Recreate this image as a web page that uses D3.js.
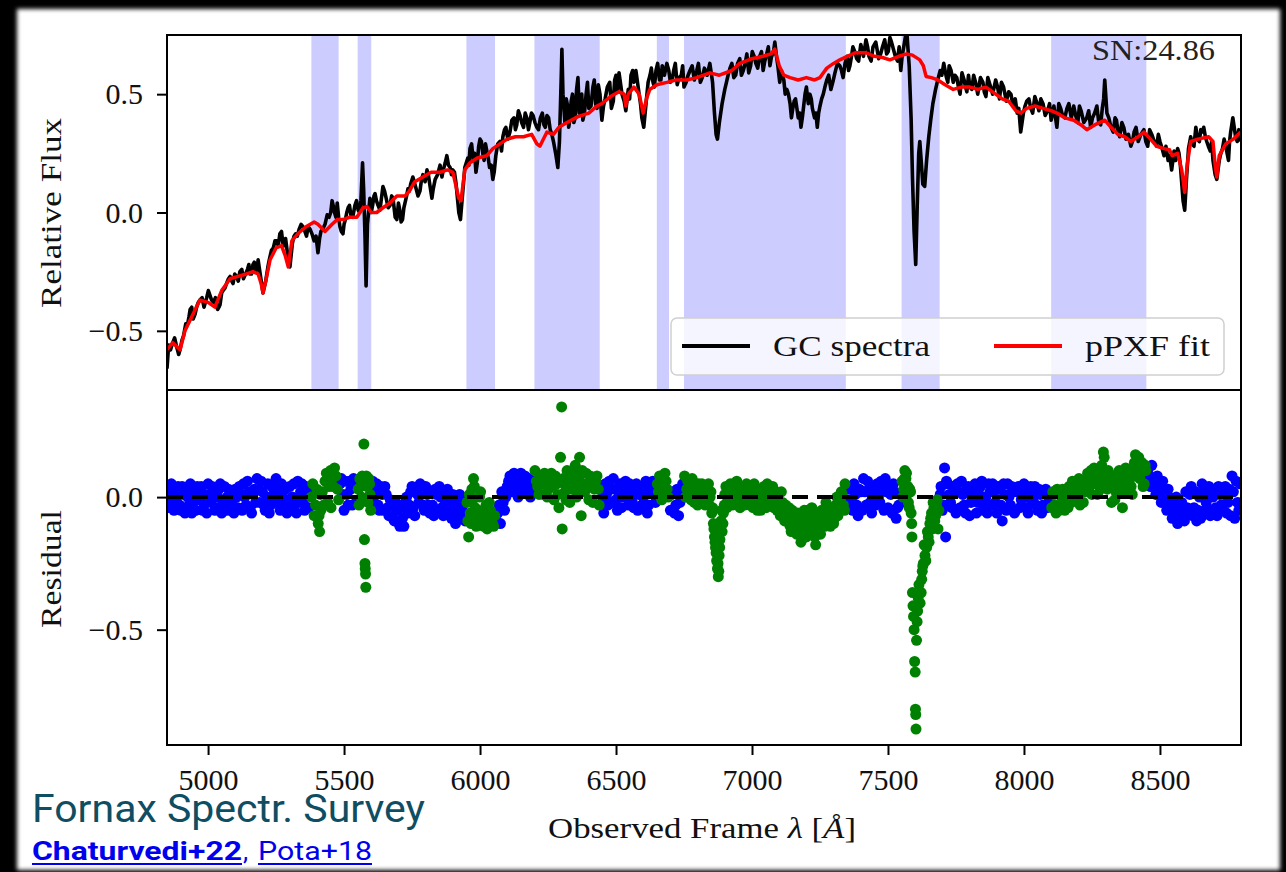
<!DOCTYPE html>
<html>
<head>
<meta charset="utf-8">
<script src="https://cdn.jsdelivr.net/npm/d3@7"></script>
<style>
  html, body { margin: 0; padding: 0; background: #000; overflow: hidden; }
</style>
</head>
<body>
<svg id="chart" width="1286" height="872"></svg>
<script>
// ---- data ----
// observed spectrum [wavelength (A), relative flux], main samples
const spectrumA = [
  [4849,-0.66],[4855,-0.56],[4870,-0.55],[4885,-0.57],[4897,-0.58],[4910,-0.52],[4925,-0.47],[4934,-0.41],
  [4945,-0.45],[4958,-0.40],[4970,-0.37],[4985,-0.40],[4995,-0.36],[5007,-0.35],[5020,-0.38],[5035,-0.41],
  [5044,-0.39],[5055,-0.33],[5068,-0.30],[5081,-0.27],[5092,-0.30],[5105,-0.27],[5117,-0.25],[5130,-0.28],
  [5145,-0.24],[5154,-0.26],[5165,-0.22],[5175,-0.25],[5184,-0.20],[5193,-0.27],[5202,-0.34],[5212,-0.29],
  [5225,-0.20],[5240,-0.15],[5252,-0.12],[5264,-0.09],[5275,-0.13],[5285,-0.11],[5295,-0.20],[5301,-0.23],
  [5310,-0.13],[5322,-0.09],[5335,-0.07],[5349,-0.06],[5362,-0.10],[5375,-0.07],[5390,-0.12],[5404,-0.17],
  [5415,-0.08],[5430,-0.05],[5445,-0.02],[5456,0.05],[5465,0.00],[5475,0.04],[5485,-0.06],[5496,-0.09],
  [5505,-0.03],[5515,0.02],[5525,-0.01],[5540,0.03],[5552,0.01],[5562,0.05],[5568,0.21],[5572,0.10],
  [5577,-0.10],[5581,-0.31],[5586,-0.05],[5595,0.06],[5605,0.03],[5614,0.08],[5625,0.03],[5643,0.11],
  [5655,0.06],[5669,0.03],[5680,0.06],[5694,-0.03],[5705,0.01],[5715,-0.03],[5724,0.04],[5735,0.10],
  [5745,0.12],[5753,0.15],[5765,0.10],[5779,0.09],[5790,0.16],[5805,0.18],[5815,0.12],[5823,0.06],
  [5835,0.14],[5853,0.20],[5865,0.18],[5878,0.24],[5890,0.19],[5900,0.18],[5912,0.12],[5922,0.00],
  [5928,-0.03],[5936,0.08],[5944,0.19],[5955,0.23],[5963,0.27],[5975,0.22],[5985,0.17],[5995,0.28],
  [6005,0.30],[6015,0.22],[6025,0.26],[6035,0.19],[6047,0.14],[6058,0.24],[6073,0.30],[6084,0.32],
  [6095,0.36],[6110,0.34],[6125,0.40],[6135,0.37],[6147,0.41],[6160,0.36],[6172,0.40],[6183,0.38],
  [6195,0.41],[6209,0.36],[6222,0.40],[6235,0.37],[6246,0.41],[6258,0.35],[6270,0.30],[6278,0.25],
  [6286,0.19],[6292,0.30],[6298,0.55],[6301,0.69],[6305,0.50],[6312,0.38],[6322,0.45],[6330,0.39],
  [6340,0.50],[6350,0.40],[6360,0.57],[6370,0.45],[6378,0.39],[6390,0.50],[6400,0.44],[6415,0.53],
  [6425,0.46],[6435,0.54],[6448,0.39],[6460,0.48],[6477,0.55],[6490,0.47],[6500,0.58],[6511,0.59],
  [6522,0.50],[6530,0.47],[6536,0.43],[6545,0.52],[6555,0.58],[6566,0.55],[6573,0.60],[6585,0.50],
  [6595,0.40],[6602,0.36],[6612,0.48],[6625,0.58],[6636,0.55],[6647,0.60],[6660,0.56],[6670,0.62],
  [6687,0.63],[6700,0.55],[6712,0.60],[6725,0.54],[6740,0.58],[6750,0.53],[6765,0.58],[6780,0.62],
  [6797,0.60],[6810,0.55],[6825,0.61],[6845,0.63],[6855,0.55],[6862,0.42],[6868,0.33],[6873,0.31],
  [6880,0.38],[6890,0.46],[6900,0.52],[6912,0.58],[6926,0.63],[6940,0.58],[6955,0.65],[6968,0.60],
  [6981,0.67],[6995,0.62],[7008,0.66],[7021,0.61],[7035,0.68],[7047,0.64],[7060,0.70],[7072,0.66],
  [7084,0.72],[7095,0.62],[7108,0.60],[7117,0.56],[7128,0.52],[7140,0.46],[7150,0.44],[7160,0.48],
  [7170,0.40],[7180,0.36],[7190,0.45],[7200,0.53],[7213,0.50],[7222,0.44],[7230,0.40],[7240,0.36],
  [7250,0.45],[7262,0.50],[7275,0.56],[7290,0.52],[7305,0.59],[7323,0.62],[7335,0.57],[7350,0.66],
  [7360,0.62],[7371,0.70],[7385,0.65],[7400,0.71],[7419,0.73],[7430,0.66],[7445,0.70],[7466,0.65],
  [7480,0.70],[7495,0.67],[7507,0.74],[7520,0.69],[7535,0.64],[7547,0.60],[7558,0.70],[7565,0.75],
  [7570,0.75],[7578,0.62],[7585,0.40],[7590,0.15],[7596,-0.08],[7602,-0.22],[7608,0.05],[7613,0.25],
  [7617,0.30],[7622,0.22],[7628,0.12],[7635,0.11],[7642,0.22],[7650,0.32],[7657,0.39],[7665,0.46],
  [7675,0.52],[7683,0.56],[7692,0.60],[7705,0.63],[7715,0.57],[7725,0.62],[7740,0.55],[7753,0.57],
  [7765,0.50],[7780,0.56],[7790,0.51],[7801,0.53],[7815,0.58],[7830,0.50],[7849,0.55],[7860,0.49],
  [7875,0.54],[7896,0.56],[7910,0.48],[7925,0.53],[7944,0.51],[7960,0.45],[7975,0.42],[7988,0.34],
  [7998,0.42],[8010,0.47],[8025,0.44],[8040,0.49],[8055,0.43],[8070,0.46],[8087,0.43],[8100,0.39],
  [8110,0.45],[8121,0.36],[8135,0.44],[8150,0.40],[8165,0.46],[8183,0.45],[8198,0.38],[8210,0.43],
  [8231,0.40],[8245,0.36],[8260,0.42],[8275,0.38],[8288,0.44],[8297,0.56],[8305,0.42],[8320,0.36],
  [8335,0.40],[8345,0.35],[8360,0.38],[8375,0.31],[8393,0.28],[8405,0.34],[8420,0.30],[8441,0.35],
  [8455,0.28],[8470,0.33],[8488,0.28],[8500,0.30],[8515,0.24],[8530,0.22],[8543,0.18],[8552,0.26],
  [8565,0.27],[8575,0.20],[8585,0.05],[8591,0.01],[8598,0.15],[8605,0.27],[8613,0.32],[8625,0.28],
  [8632,0.36],[8645,0.30],[8655,0.34],[8661,0.36],[8672,0.30],[8685,0.26],[8695,0.22],[8703,0.16],
  [8709,0.14],[8718,0.22],[8730,0.27],[8742,0.28],[8752,0.22],[8760,0.34],[8768,0.40],[8778,0.32],
  [8790,0.35],[8797,0.30]
];

// observed spectrum, in-between samples (pixel noise)
const spectrumB = [
  [4862,-0.58],[4877,-0.53],[4892,-0.60],[4904,-0.54],[4918,-0.47],[4930,-0.44],[4940,-0.40],[4952,-0.43],
  [4964,-0.38],[4978,-0.36],[4990,-0.38],[5001,-0.33],[5013,-0.37],[5027,-0.36],[5040,-0.40],[5050,-0.34],
  [5062,-0.32],[5075,-0.28],[5087,-0.29],[5098,-0.26],[5111,-0.29],[5124,-0.24],[5138,-0.26],[5150,-0.22],
  [5160,-0.26],[5170,-0.21],[5180,-0.24],[5220,-0.23],[5233,-0.16],[5246,-0.12],[5258,-0.14],[5270,-0.08],
  [5280,-0.14],[5316,-0.10],[5328,-0.10],[5342,-0.05],[5356,-0.08],[5368,-0.06],[5382,-0.09],[5397,-0.10],
  [5410,-0.11],[5422,-0.07],[5438,-0.01],[5451,0.00],[5460,0.03],[5470,-0.02],[5480,-0.02],[5490,-0.08],
  [5500,-0.05],[5510,0.00],[5520,0.03],[5532,-0.02],[5546,0.05],[5557,0.00],[5600,0.00],[5610,0.07],
  [5619,0.05],[5632,0.01],[5649,0.09],[5662,0.02],[5675,0.07],[5688,-0.02],[5700,0.04],[5710,-0.04],
  [5720,0.02],[5730,0.07],[5740,0.09],[5758,0.13],[5772,0.07],[5785,0.14],[5798,0.13],[5810,0.16],
  [5828,0.10],[5844,0.16],[5860,0.15],[5872,0.21],[5884,0.20],[5895,0.16],[5906,0.17],
  [5959,0.20],[5969,0.29],[5980,0.25],[5990,0.21],[6000,0.31],[6010,0.25],[6020,0.29],[6030,0.23],
  [6041,0.20],[6052,0.17],[6065,0.29],[6079,0.26],[6090,0.35],[6102,0.31],[6117,0.39],[6130,0.35],
  [6141,0.43],[6153,0.38],[6166,0.42],[6178,0.35],[6189,0.42],[6202,0.38],[6215,0.35],[6229,0.42],
  [6240,0.36],[6252,0.40],[6264,0.33],
  [6317,0.48],[6326,0.36],[6335,0.47],[6345,0.38],[6355,0.52],[6365,0.42],[6374,0.50],[6384,0.42],
  [6395,0.55],[6408,0.45],[6420,0.56],[6430,0.44],[6441,0.50],[6454,0.45],[6468,0.53],[6483,0.44],
  [6495,0.56],[6505,0.51],[6516,0.55],[6550,0.48],[6561,0.60],[6579,0.55],[6590,0.46],[6618,0.55],
  [6630,0.61],[6641,0.53],[6653,0.63],[6665,0.56],[6678,0.58],[6694,0.60],[6706,0.56],[6718,0.63],
  [6732,0.57],[6745,0.62],
  [6758,0.55],[6772,0.60],[6788,0.56],[6803,0.63],[6817,0.57],[6835,0.58],[6850,0.59],[6906,0.55],
  [6919,0.61],[6933,0.57],[6947,0.63],[6961,0.58],[6975,0.63],[6988,0.59],[7001,0.68],[7014,0.63],
  [7028,0.66],[7041,0.60],[7054,0.67],[7066,0.62],[7078,0.67],[7090,0.66],[7102,0.55],[7112,0.58],
  [7122,0.50],[7134,0.50],[7145,0.40],[7155,0.47],[7165,0.44],[7175,0.42],[7185,0.40],[7195,0.50],
  [7207,0.46],[7218,0.48],[7235,0.42],[7245,0.42],[7256,0.48],[7268,0.53],[7282,0.58],[7297,0.55],
  [7314,0.63],[7329,0.60],[7342,0.63],[7355,0.60],[7366,0.66],[7378,0.68],[7392,0.64],[7410,0.66],
  [7425,0.70],[7438,0.64],[7455,0.72],[7473,0.67],[7488,0.73],[7501,0.68],[7513,0.72],[7527,0.66],
  [7541,0.70],[7552,0.66],
  [7698,0.58],[7710,0.60],[7720,0.55],[7732,0.60],[7746,0.58],[7759,0.53],[7772,0.59],[7785,0.53],
  [7796,0.58],[7808,0.52],[7822,0.55],[7840,0.57],[7854,0.51],[7867,0.57],[7885,0.50],[7903,0.53],
  [7917,0.55],[7935,0.47],[7952,0.50],[7968,0.48],[7981,0.44],[7993,0.38],[8004,0.45],[8018,0.48],
  [8032,0.42],[8048,0.46],[8062,0.48],[8078,0.41],[8094,0.46],[8105,0.42],[8116,0.40],[8128,0.46],
  [8142,0.41],[8158,0.44],[8174,0.40],[8190,0.41],[8204,0.45],[8220,0.38],[8238,0.43],[8252,0.40],
  [8268,0.45],[8282,0.37],[8293,0.48],[8312,0.40],[8328,0.34],[8340,0.39],[8352,0.32],[8367,0.36],
  [8384,0.33],[8399,0.30],[8412,0.36],[8430,0.33],[8448,0.30],[8462,0.35],[8479,0.30],[8494,0.33],
  [8508,0.27],[8522,0.28],[8536,0.24],[8558,0.22],[8570,0.25],[8618,0.29],[8638,0.31],[8650,0.35],
  [8667,0.32],[8678,0.28],[8690,0.30],[8724,0.25],[8736,0.31],[8747,0.25],[8756,0.30],[8764,0.37],
  [8773,0.36],[8784,0.30]
];

// pPXF best fit [wavelength, relative flux]
const fit = [
  [4849,-0.58],[4870,-0.55],[4897,-0.58],[4915,-0.50],[4940,-0.44],[4970,-0.37],[5000,-0.38],[5025,-0.40],
  [5050,-0.33],[5081,-0.28],[5110,-0.27],[5140,-0.26],[5165,-0.25],[5184,-0.26],[5195,-0.30],[5202,-0.34],
  [5212,-0.29],[5228,-0.20],[5250,-0.15],[5270,-0.14],[5283,-0.18],[5295,-0.23],[5308,-0.12],[5330,-0.09],
  [5360,-0.06],[5390,-0.04],[5404,-0.05],[5430,-0.08],[5456,-0.05],[5475,-0.03],[5496,-0.03],[5520,-0.02],
  [5547,-0.02],[5570,0.02],[5584,0.025],[5600,0.00],[5620,0.00],[5643,0.02],[5669,0.04],[5694,0.07],
  [5724,0.07],[5740,0.09],[5760,0.13],[5790,0.15],[5820,0.17],[5853,0.17],[5880,0.18],[5900,0.17],
  [5910,0.12],[5922,0.06],[5930,0.05],[5944,0.18],[5963,0.21],[5990,0.23],[6025,0.24],[6047,0.27],
  [6073,0.29],[6100,0.31],[6130,0.32],[6160,0.32],[6190,0.33],[6209,0.29],[6220,0.28],[6246,0.34],
  [6270,0.33],[6290,0.36],[6320,0.38],[6360,0.405],[6400,0.42],[6430,0.45],[6448,0.46],[6480,0.49],
  [6511,0.51],[6530,0.50],[6536,0.45],[6545,0.50],[6566,0.53],[6585,0.50],[6600,0.42],[6612,0.48],
  [6624,0.52],[6650,0.54],[6687,0.55],[6720,0.56],[6760,0.56],[6797,0.57],[6845,0.59],[6880,0.58],
  [6926,0.60],[6955,0.63],[7000,0.65],[7040,0.66],[7070,0.67],[7084,0.69],[7100,0.62],[7117,0.58],
  [7140,0.57],[7170,0.56],[7200,0.57],[7230,0.56],[7250,0.57],[7275,0.61],[7300,0.63],[7323,0.645],
  [7350,0.66],[7380,0.675],[7419,0.675],[7450,0.66],[7480,0.655],[7507,0.645],[7540,0.66],[7569,0.67],
  [7590,0.665],[7617,0.645],[7630,0.62],[7640,0.575],[7660,0.57],[7683,0.56],[7710,0.54],[7740,0.52],
  [7770,0.53],[7801,0.53],[7830,0.52],[7860,0.53],[7896,0.50],[7920,0.48],[7944,0.47],[7970,0.43],
  [7988,0.42],[8010,0.44],[8040,0.45],[8070,0.44],[8100,0.43],[8121,0.42],[8150,0.40],[8183,0.39],
  [8210,0.37],[8231,0.35],[8260,0.37],[8297,0.39],[8320,0.36],[8345,0.33],[8370,0.32],[8393,0.30],
  [8420,0.32],[8441,0.34],[8465,0.31],[8488,0.28],[8515,0.27],[8535,0.265],[8545,0.24],[8565,0.25],
  [8580,0.18],[8591,0.085],[8600,0.20],[8613,0.30],[8640,0.31],[8679,0.32],[8695,0.30],[8703,0.20],
  [8709,0.15],[8718,0.24],[8742,0.29],[8770,0.31],[8797,0.34]
];

// fit residuals [wavelength, residual], first pass
const residualsA = [
  [4850,0.03],[4860,-0.04],[4870,0.02],[4880,-0.02],[4890,0.04],[4900,-0.05],[4910,0.01],[4920,0.03],
  [4930,-0.03],[4940,-0.06],[4950,0.02],[4960,0.04],[4970,-0.01],[4980,-0.05],[4990,0.01],[5000,0.05],
  [5010,-0.02],[5020,0.02],[5030,-0.04],[5040,0.03],[5050,-0.06],[5060,0.04],[5070,0.00],[5080,-0.05],
  [5090,-0.03],[5100,0.03],[5110,-0.04],[5120,0.01],[5130,0.05],[5140,-0.03],[5150,0.02],[5160,-0.06],
  [5170,0.03],[5180,0.07],[5190,-0.02],[5200,0.02],[5210,-0.05],[5220,0.05],[5230,-0.03],[5240,0.01],
  [5250,0.07],[5260,-0.01],[5270,0.05],[5280,-0.04],[5290,-0.06],[5300,0.04],[5310,0.00],[5320,-0.03],
  [5330,0.06],[5340,0.02],[5350,-0.02],[5360,0.04],[5370,-0.04],
  [5380,0.00],[5390,-0.07],[5400,0.03],[5405,-0.10],[5410,-0.13],[5415,-0.05],[5420,0.02],[5430,0.06],
  [5440,-0.02],[5450,0.10],[5455,0.07],[5460,0.04],[5470,0.08],[5480,-0.01],
  [5490,0.07],[5500,-0.05],[5510,0.01],[5520,0.06],[5530,-0.03],[5540,0.04],
  [5552,0.03],[5558,0.07],[5564,0.00],[5570,0.05],[5573,0.20],[5575,-0.16],[5577,-0.25],[5578,-0.27],
  [5579,-0.29],[5580,-0.34],[5582,0.08],[5588,-0.02],[5594,0.05],[5598,-0.05],
  [5605,0.06],[5615,0.02],[5625,-0.03],[5635,0.04],[5645,-0.05],[5655,0.01],[5665,-0.07],[5675,-0.03],
  [5685,-0.09],[5695,-0.05],[5705,-0.11],[5715,-0.08],[5725,-0.02],[5735,-0.06],[5745,0.02],[5755,-0.04],
  [5765,0.03],[5775,-0.02],[5785,0.04],[5795,-0.05],[5805,0.01],[5815,-0.06],[5825,-0.03],[5835,0.03],
  [5845,-0.05],[5855,0.00],[5865,-0.07],[5875,0.02],[5885,-0.04],[5895,-0.08],[5905,-0.02],[5915,-0.06],
  [5925,0.01],[5935,-0.05],[5945,-0.09],
  [5952,-0.02],[5958,-0.15],[5964,-0.06],[5970,0.03],[5976,0.07],[5982,-0.04],[5990,-0.08],[5998,0.00],
  [6006,-0.06],[6014,-0.11],[6022,-0.03],[6030,-0.08],[6038,-0.05],[6046,-0.10],[6054,-0.07],
  [6060,-0.09],[6070,-0.03],[6080,0.02],[6090,-0.05],[6100,0.04],[6110,0.08],[6120,0.02],[6130,0.06],
  [6140,0.00],[6150,0.09],[6160,0.05],[6170,0.02],[6180,0.07],[6190,0.03],
  [6202,0.10],[6212,0.04],[6222,0.08],[6232,0.01],[6242,0.06],[6252,0.03],[6262,0.09],[6272,-0.01],
  [6282,0.05],[6290,-0.04],[6296,0.15],[6300,0.34],[6302,-0.12],[6306,0.07],[6312,0.02],[6320,0.10],
  [6330,-0.02],[6340,0.06],[6350,0.12],[6358,0.03],[6366,0.15],[6372,-0.07],[6380,0.05],[6390,0.09],
  [6400,-0.01],[6410,0.06],[6420,0.03],[6430,0.08],[6438,-0.03],
  [6445,0.04],[6455,-0.06],[6465,0.01],[6475,0.06],[6485,-0.02],[6495,0.03],[6505,-0.05],[6515,0.05],
  [6525,0.00],[6535,0.06],[6545,-0.03],[6555,0.02],[6565,-0.04],[6575,0.05],[6585,0.01],[6595,-0.03],
  [6605,0.04],[6615,-0.06],[6625,0.02],[6635,0.06],[6645,-0.02],
  [6652,0.05],[6660,0.08],[6668,-0.01],[6676,0.04],[6684,0.06],[6692,0.00],
  [6700,-0.05],[6710,0.02],[6720,-0.03],[6730,-0.07],[6740,0.01],
  [6752,0.08],[6760,0.03],[6768,0.06],[6776,-0.01],[6784,0.02],[6792,0.05],[6800,-0.03],[6808,0.00],
  [6816,0.05],[6824,0.04],[6832,-0.02],[6840,0.05],[6846,0.00],[6852,-0.06],[6858,-0.10],[6862,-0.15],
  [6866,-0.19],[6870,-0.24],[6873,-0.27],[6876,-0.30],[6879,-0.22],[6882,-0.16],[6886,-0.09],[6890,-0.13],
  [6895,-0.06],[6900,0.01],[6908,-0.04],[6916,0.03],[6924,0.00],[6932,0.05],[6940,-0.02],[6948,0.04],
  [6956,-0.04],[6964,0.02],[6972,-0.03],[6980,0.05],[6988,-0.01],[6996,0.03],[7004,-0.04],[7012,0.00],
  [7020,-0.05],[7028,0.02],[7036,-0.02],[7044,0.04],[7052,-0.04],[7060,0.02],[7068,-0.03],[7076,0.04],
  [7084,-0.01],[7092,-0.05],[7100,-0.02],[7108,0.02],[7116,-0.06],[7124,-0.03],[7132,-0.08],[7140,-0.11],
  [7148,-0.05],[7156,-0.09],[7164,-0.14],[7172,-0.10],[7180,-0.17],[7188,-0.07],[7196,-0.12],[7204,-0.05],
  [7212,-0.09],[7220,-0.04],[7228,-0.13],[7234,-0.18],[7240,-0.08],[7248,-0.12],[7256,-0.05],[7264,-0.10],
  [7272,-0.02],[7280,-0.07],[7288,-0.11],[7296,-0.04],[7304,-0.08],[7312,0.00],[7320,-0.05],[7328,0.02],
  [7336,-0.03],[7342,0.05],
  [7350,-0.02],[7360,0.04],[7370,-0.05],[7380,0.01],[7390,-0.07],[7400,0.02],[7410,0.07],[7420,-0.03],
  [7430,0.03],[7440,-0.06],[7450,0.01],[7460,0.05],[7470,-0.02],[7480,0.03],[7490,0.07],[7500,-0.04],
  [7510,0.01],[7520,0.05],[7530,-0.08],[7540,-0.03],
  [7552,0.06],[7558,0.03],[7562,0.10],[7566,0.07],[7570,0.01],[7575,-0.02],[7580,0.03],[7585,-0.06],
  [7588,-0.15],[7590,-0.36],[7592,-0.41],[7594,-0.45],[7596,-0.50],[7598,-0.62],[7600,-0.66],[7601,-0.80],
  [7602,-0.82],[7603,-0.875],[7605,-0.54],[7607,-0.47],[7609,-0.43],[7611,-0.38],[7614,-0.33],[7618,-0.40],
  [7622,-0.36],[7626,-0.28],[7630,-0.25],[7636,-0.22],[7642,-0.19],[7648,-0.15],[7654,-0.10],[7660,-0.06],
  [7666,-0.02],[7672,-0.09],[7678,-0.03],[7684,-0.12],
  [7692,0.01],[7700,-0.05],[7708,0.11],[7712,-0.15],[7720,0.05],[7730,-0.02],[7740,0.04],[7750,-0.06],
  [7760,0.02],[7770,0.06],[7780,-0.03],[7790,0.03],[7800,-0.07],[7810,0.01],[7820,0.05],[7830,-0.02],
  [7840,0.04],[7850,-0.05],[7860,0.00],[7870,0.05],[7880,-0.03],[7890,0.02],[7900,-0.06],[7910,0.03],
  [7920,-0.09],[7930,0.01],[7940,0.05],[7950,-0.03],[7960,0.02],[7970,-0.05],[7980,0.04],[7990,-0.01],
  [8000,0.05],[8010,-0.04],[8020,0.02],[8030,-0.02],[8040,0.04],[8050,-0.05],[8060,0.01],[8070,-0.03],
  [8080,0.03],[8090,-0.02],
  [8102,-0.04],[8110,0.01],[8118,-0.06],[8126,0.02],[8134,-0.03],[8142,0.03],[8150,-0.05],[8158,0.00],
  [8166,0.04],[8174,-0.02],[8182,0.03],[8190,0.06],[8198,0.01],[8206,-0.03],[8214,0.05],[8222,0.02],
  [8230,0.07],[8238,0.03],[8246,0.10],[8254,0.05],[8262,0.08],[8270,0.01],[8278,0.06],[8286,0.12],
  [8292,0.17],[8298,0.08],[8306,0.03],[8314,0.07],[8322,-0.02],[8330,0.05],[8338,0.02],[8346,0.08],
  [8354,0.04],[8362,-0.04],[8370,0.06],[8378,0.02],[8386,0.09],[8394,0.04],[8402,0.10],[8410,0.16],
  [8418,0.12],[8426,0.07],[8434,0.13],[8442,0.05],[8448,0.10],
  [8455,0.10],[8465,0.04],[8475,0.07],[8485,0.01],[8495,0.05],[8505,-0.02],[8515,0.03],[8525,-0.05],
  [8535,0.00],[8545,-0.08],[8555,-0.03],[8565,-0.10],[8575,-0.05],[8585,-0.07],[8595,0.02],[8605,-0.06],
  [8615,0.04],[8625,-0.04],[8635,-0.09],[8645,0.00],[8655,0.05],[8665,-0.05],[8675,0.02],[8685,-0.07],
  [8695,0.00],[8705,-0.04],[8715,0.04],[8725,-0.03],[8735,0.01],[8745,-0.06],[8755,0.03],[8765,0.08],
  [8775,-0.08],[8785,-0.02],[8795,0.05]
];

// fit residuals, interleaved pixels
const residualsB = [
  [4855,-0.01],[4865,0.05],[4875,-0.05],[4885,0.00],[4895,-0.03],[4905,0.04],[4915,-0.06],[4925,0.00],
  [4935,0.05],[4945,-0.02],[4955,-0.05],[4965,0.01],[4975,0.04],[4985,-0.03],[4995,-0.06],[5005,0.01],
  [5015,0.04],[5025,-0.05],[5035,0.00],[5045,0.05],[5055,-0.02],[5065,-0.05],[5075,0.03],[5085,0.01],
  [5095,-0.06],[5105,0.00],[5115,0.04],[5125,-0.05],[5135,0.00],[5145,0.06],[5155,-0.04],[5165,0.01],
  [5175,-0.02],[5185,0.03],[5195,0.06],[5205,-0.03],[5215,0.00],[5225,-0.06],[5235,0.04],[5245,-0.02],
  [5255,0.03],[5265,-0.05],[5275,0.00],[5285,0.03],[5295,-0.02],[5305,-0.05],[5315,0.05],[5325,-0.06],
  [5335,0.00],[5345,0.05],[5355,-0.05],[5365,0.02],
  [5385,0.05],[5395,-0.03],[5408,-0.07],[5413,0.01],[5425,-0.03],[5435,0.09],[5445,0.04],[5452,-0.04],
  [5465,0.11],[5475,0.03],
  [5485,0.05],[5495,0.01],[5505,0.06],[5515,-0.03],[5525,0.03],[5535,0.07],[5545,-0.02],
  [5555,-0.03],[5561,0.04],[5567,0.08],[5585,0.04],[5591,0.07],[5596,0.01],
  [5610,-0.02],[5620,0.05],[5630,-0.05],[5640,0.01],[5650,0.04],[5660,-0.04],[5670,-0.01],[5680,-0.08],
  [5690,-0.02],[5700,-0.09],[5710,-0.04],[5720,-0.11],[5730,0.00],[5740,-0.03],[5750,0.04],[5760,-0.07],
  [5770,0.01],[5780,0.05],[5790,-0.03],[5800,0.04],[5810,-0.03],[5820,0.02],[5830,-0.07],[5840,0.01],
  [5850,0.04],[5860,-0.04],[5870,-0.01],[5880,0.03],[5890,-0.06],[5900,0.01],[5910,-0.10],[5920,-0.04],
  [5930,-0.08],[5940,-0.01],
  [5955,-0.09],[5961,0.01],[5967,-0.10],[5973,-0.01],[5979,0.04],[5986,-0.11],[5994,-0.05],[6002,0.02],
  [6010,-0.09],[6018,-0.05],[6026,-0.12],[6034,-0.02],[6042,-0.07],[6050,-0.11],
  [6065,-0.06],[6075,-0.10],[6085,-0.02],[6095,0.00],[6105,0.06],[6115,0.03],[6125,0.09],[6135,0.03],
  [6145,0.05],[6155,0.02],[6165,0.08],[6175,0.04],[6185,0.00],[6195,0.06],
  [6207,0.06],[6217,0.01],[6227,0.05],[6237,0.09],[6247,0.00],[6257,0.07],[6267,0.04],[6277,0.08],
  [6286,0.01],[6310,0.05],[6316,-0.01],[6325,0.07],[6335,0.03],[6345,0.09],[6355,0.00],[6362,0.07],
  [6376,0.10],[6385,0.02],[6395,0.05],[6405,0.08],[6415,-0.02],[6425,0.06],[6435,0.03],
  [6450,0.00],[6460,0.05],[6470,-0.03],[6480,0.03],[6490,0.07],[6500,-0.01],[6510,0.02],[6520,-0.04],
  [6530,0.04],[6540,0.01],[6550,0.05],[6560,-0.02],[6570,0.01],[6580,-0.05],[6590,0.04],[6600,0.00],
  [6610,0.06],[6620,-0.03],[6630,0.03],[6640,0.01],
  [6656,0.02],[6664,0.06],[6672,0.01],[6680,0.09],[6688,0.03],
  [6705,0.01],[6715,-0.06],[6725,0.03],[6735,-0.02],[6745,0.05],
  [6756,0.00],[6764,0.06],[6772,0.02],[6780,0.07],[6788,-0.02],[6796,0.02],[6804,0.05],[6812,-0.02],
  [6820,0.01],[6828,-0.03],[6836,0.03],[6843,-0.03],[6849,0.02],[6855,-0.04],[6860,-0.12],[6864,-0.17],
  [6868,-0.21],[6871,-0.18],[6875,-0.25],[6878,-0.28],[6881,-0.19],[6884,-0.12],[6888,-0.05],[6893,-0.10],
  [6898,-0.03],[6904,0.04],[6912,-0.01],[6920,0.05],[6928,-0.03],[6936,0.02],[6944,0.06],[6952,0.00],
  [6960,0.04],[6968,-0.02],[6976,0.01],[6984,0.04],[6992,-0.03],[7000,0.02],[7008,0.05],[7016,-0.02],
  [7024,0.03],[7032,-0.05],[7040,0.01],[7048,0.00],[7056,0.05],[7064,-0.01],[7072,0.01],[7080,-0.04],
  [7088,0.02],[7096,-0.03],[7104,-0.07],[7112,-0.02],[7120,-0.09],[7128,-0.05],[7136,-0.04],[7144,-0.13],
  [7152,-0.07],[7160,-0.11],[7168,-0.06],[7176,-0.12],[7184,-0.10],[7192,-0.05],[7200,-0.15],[7208,-0.07],
  [7216,-0.11],[7224,-0.06],[7231,-0.15],[7237,-0.10],[7244,-0.06],[7252,-0.14],[7260,-0.07],[7268,-0.11],
  [7276,-0.04],[7284,-0.09],[7292,-0.06],[7300,-0.10],[7308,-0.03],[7316,-0.07],[7324,-0.01],[7332,0.01],
  [7340,-0.05],
  [7355,0.03],[7365,-0.01],[7375,0.05],[7385,-0.03],[7395,0.03],[7405,-0.05],[7415,0.02],[7425,0.06],
  [7435,-0.02],[7445,0.04],[7455,-0.03],[7465,0.00],[7475,0.06],[7485,-0.05],[7495,0.02],[7505,0.04],
  [7515,-0.06],[7525,0.02],[7535,-0.04],[7545,0.01],
  [7555,0.00],[7560,0.07],[7564,0.04],[7568,0.09],[7573,0.04],[7578,-0.04],[7583,0.02],[7587,-0.10],
  [7624,-0.31],[7628,-0.26],[7633,-0.18],[7639,-0.24],[7645,-0.13],[7651,-0.17],[7657,-0.08],[7663,-0.12],
  [7669,-0.04],[7675,-0.07],[7681,-0.01],[7687,-0.05],
  [7695,0.04],[7705,-0.03],[7715,0.06],[7725,0.01],[7735,-0.04],[7745,0.02],[7755,0.05],[7765,-0.04],
  [7775,0.01],[7785,-0.06],[7795,0.04],[7805,-0.02],[7815,0.03],[7825,-0.06],[7835,0.01],[7845,0.06],
  [7855,-0.02],[7865,-0.06],[7875,0.02],[7885,0.05],[7895,-0.02],[7905,0.04],[7915,-0.03],[7925,0.05],
  [7935,-0.05],[7945,0.00],[7955,0.04],[7965,-0.06],[7975,0.02],[7985,-0.04],[7995,0.03],[8005,0.00],
  [8015,-0.06],[8025,0.04],[8035,0.00],[8045,-0.03],[8055,0.03],[8065,-0.06],[8075,0.02],[8085,-0.04],
  [8095,0.01],
  [8106,0.02],[8114,-0.03],[8122,0.03],[8130,-0.05],[8138,0.00],[8146,-0.02],[8154,0.03],[8162,-0.04],
  [8170,0.01],[8178,0.06],[8186,-0.01],[8194,0.03],[8202,0.07],[8210,0.02],[8218,-0.02],[8226,0.04],
  [8234,0.09],[8242,0.05],[8250,0.01],[8258,0.11],[8266,0.05],[8274,0.09],[8282,0.03],[8289,0.08],
  [8295,0.15],[8302,0.05],[8310,0.10],[8318,0.04],[8326,0.08],[8334,-0.01],[8342,0.05],[8350,0.10],
  [8358,0.02],[8366,0.07],[8374,0.11],[8382,0.04],[8390,0.07],[8398,0.01],[8406,0.13],[8414,0.08],
  [8422,0.15],[8430,0.09],[8438,0.04],[8446,0.12],
  [8460,0.08],[8470,0.12],[8480,0.05],[8490,0.08],[8500,0.02],[8510,0.06],[8520,-0.01],[8530,0.03],
  [8540,-0.04],[8550,-0.06],[8560,0.00],[8570,-0.08],[8580,-0.02],[8590,-0.09],[8600,-0.04],[8610,0.01],
  [8620,-0.07],[8630,0.02],[8640,-0.05],[8650,-0.08],[8660,0.02],[8670,-0.02],[8680,0.04],[8690,-0.05],
  [8700,0.03],[8710,-0.07],[8720,0.01],[8730,-0.05],[8740,0.04],[8750,-0.02],[8760,-0.07],[8770,0.02],
  [8780,0.06],[8790,-0.05]
];

// masked (shaded) wavelength windows
const maskStart = [5380, 5550, 5950, 6200, 6650, 6750, 7550, 8100];
const maskEnd   = [5480, 5600, 6055, 6440, 6695, 7345, 7690, 8450];

const xTicks = [5000, 5500, 6000, 6500, 7000, 7500, 8000, 8500];
const yTicksTop = [-0.5, 0.0, 0.5];
const yTicksBottom = [-0.5, 0.0];
const legendLabels = ['GC spectra', 'pPXF fit'];
const legendColors = ['#000000', '#ff0000'];
const snLabel = 'SN:24.86';

// ---- layout ----
const W = 1286, H = 872;
const box = { left: 167, right: 1241, top: 35, mid: 390, bottom: 745 };
const SERIF = '"Liberation Serif", "DejaVu Serif", serif';
const SANS = 'Roboto, "Liberation Sans", sans-serif';

const x = d3.scaleLinear().domain([4849, 8798]).range([box.left, box.right]);
const yTop = d3.scaleLinear().domain([-0.75, 0.75]).range([box.mid, box.top]);
const yBot = d3.scaleLinear().domain([-0.935, 0.404]).range([box.bottom, box.mid]);

const svg = d3.select('#chart');
const defs = svg.append('defs');

// slide: black surround, white page
svg.append('rect').attr('width', W).attr('height', H).attr('fill', '#000');
defs.append('filter').attr('id', 'soft')
    .append('feGaussianBlur').attr('stdDeviation', 2);
svg.append('rect')
    .attr('x', 17).attr('y', 9).attr('width', 1263).attr('height', 861)
    .attr('fill', '#fff').attr('filter', 'url(#soft)');

defs.append('clipPath').attr('id', 'clipTop').append('rect')
    .attr('x', box.left).attr('y', box.top)
    .attr('width', box.right - box.left).attr('height', box.mid - box.top);
defs.append('clipPath').attr('id', 'clipBot').append('rect')
    .attr('x', box.left).attr('y', box.mid)
    .attr('width', box.right - box.left).attr('height', box.bottom - box.mid);

// ---- top panel ----
const topG = svg.append('g').attr('clip-path', 'url(#clipTop)');

topG.selectAll('rect.band')
    .data(d3.zip(maskStart, maskEnd))
    .enter().append('rect')
    .attr('class', 'band')
    .attr('x', d => x(d[0]))
    .attr('width', d => x(d[1]) - x(d[0]))
    .attr('y', box.top)
    .attr('height', box.mid - box.top)
    .attr('fill', '#ccccff');

const lineTop = d3.line().x(d => x(d[0])).y(d => yTop(d[1]));
const spectrum = spectrumA.concat(spectrumB).sort((a, b) => a[0] - b[0]);

topG.append('path').datum(spectrum)
    .attr('d', lineTop)
    .attr('fill', 'none').attr('stroke', '#000')
    .attr('stroke-width', 3.6).attr('stroke-linejoin', 'round');

topG.append('path').datum(fit)
    .attr('d', lineTop)
    .attr('fill', 'none').attr('stroke', '#ff0000')
    .attr('stroke-width', 3.5).attr('stroke-linejoin', 'round');

// legend
const legend = svg.append('g');
legend.append('rect')
    .attr('x', 671).attr('y', 318).attr('width', 553).attr('height', 57)
    .attr('rx', 6)
    .attr('fill', '#fff').attr('fill-opacity', 0.8)
    .attr('stroke', '#d0d0d0').attr('stroke-width', 1.5);

const legendX = [682, 994];
legendLabels.forEach((lab, i) => {
    legend.append('line')
        .attr('x1', legendX[i]).attr('x2', legendX[i] + 68)
        .attr('y1', 346).attr('y2', 346)
        .attr('stroke', legendColors[i]).attr('stroke-width', 4);
    legend.append('text')
        .attr('x', legendX[i] + 91).attr('y', 356)
        .attr('font-family', SERIF).attr('font-size', 30)
        .attr('textLength', i === 0 ? 157 : 125)
        .attr('lengthAdjust', 'spacingAndGlyphs')
        .attr('fill', '#111')
        .text(lab);
});

svg.append('text')
    .attr('x', 1215).attr('y', 60)
    .attr('text-anchor', 'end')
    .attr('font-family', SERIF).attr('font-size', 30)
    .attr('textLength', 123).attr('lengthAdjust', 'spacingAndGlyphs')
    .attr('fill', '#222')
    .text(snLabel);

// ---- bottom panel ----
const botG = svg.append('g').attr('clip-path', 'url(#clipBot)');

const residuals = residualsA.concat(residualsB).sort((a, b) => a[0] - b[0]);
const inMask = w => maskStart.some((s, i) => w >= s && w <= maskEnd[i]);

botG.selectAll('circle.free')
    .data(residuals.filter(d => !inMask(d[0])))
    .enter().append('circle')
    .attr('class', 'free')
    .attr('cx', d => x(d[0])).attr('cy', d => yBot(d[1]))
    .attr('r', 5.5).attr('fill', '#0000ff');

botG.selectAll('circle.masked')
    .data(residuals.filter(d => inMask(d[0])))
    .enter().append('circle')
    .attr('class', 'masked')
    .attr('cx', d => x(d[0])).attr('cy', d => yBot(d[1]))
    .attr('r', 5.5).attr('fill', '#008000');

botG.append('line')
    .attr('x1', box.left).attr('x2', box.right)
    .attr('y1', yBot(0)).attr('y2', yBot(0))
    .attr('stroke', '#000').attr('stroke-width', 4)
    .attr('stroke-dasharray', '16,9');

// ---- axes ----
function styleAxis(g) {
    g.attr('font-family', SERIF).attr('font-size', 30);
    g.select('.domain').remove();
    g.selectAll('.tick line').attr('stroke', '#000').attr('stroke-width', 2);
    g.selectAll('.tick text')
        .attr('font-size', 30)
        .attr('font-family', SERIF)
        .attr('fill', '#111');
}

svg.append('g')
    .attr('transform', `translate(${box.left},0)`)
    .call(d3.axisLeft(yTop).tickValues(yTicksTop).tickSize(10).tickPadding(14).tickFormat(d3.format('.1f')))
    .call(styleAxis);

svg.append('g')
    .attr('transform', `translate(${box.left},0)`)
    .call(d3.axisLeft(yBot).tickValues(yTicksBottom).tickSize(10).tickPadding(14).tickFormat(d3.format('.1f')))
    .call(styleAxis);

svg.append('g')
    .attr('transform', `translate(0,${box.bottom})`)
    .call(d3.axisBottom(x).tickValues(xTicks).tickSize(10).tickPadding(14).tickFormat(d3.format('d')))
    .call(styleAxis);

// panel frames
[[box.top, box.mid], [box.mid, box.bottom]].forEach(([a, b]) => {
    svg.append('rect')
        .attr('x', box.left).attr('y', a)
        .attr('width', box.right - box.left).attr('height', b - a)
        .attr('fill', 'none').attr('stroke', '#000').attr('stroke-width', 2);
});

// axis labels
svg.append('text')
    .attr('transform', 'translate(61,213) rotate(-90)')
    .attr('text-anchor', 'middle')
    .attr('font-family', SERIF).attr('font-size', 30)
    .attr('textLength', 190).attr('lengthAdjust', 'spacingAndGlyphs')
    .attr('fill', '#111')
    .text('Relative Flux');

svg.append('text')
    .attr('transform', 'translate(61,569) rotate(-90)')
    .attr('text-anchor', 'middle')
    .attr('font-family', SERIF).attr('font-size', 30)
    .attr('textLength', 118).attr('lengthAdjust', 'spacingAndGlyphs')
    .attr('fill', '#111')
    .text('Residual');

const xl = svg.append('text')
    .attr('x', 702).attr('y', 838)
    .attr('text-anchor', 'middle')
    .attr('font-family', SERIF).attr('font-size', 30)
    .attr('textLength', 308).attr('lengthAdjust', 'spacingAndGlyphs')
    .attr('fill', '#111');
xl.append('tspan').text('Observed Frame ');
xl.append('tspan').attr('font-style', 'italic').text('λ');
xl.append('tspan').text(' [');
xl.append('tspan').attr('font-style', 'italic').text('Å');
xl.append('tspan').text(']');

// ---- slide captions ----
svg.append('text')
    .attr('x', 32).attr('y', 822)
    .attr('font-family', SANS)
    .attr('font-size', 38)
    .attr('textLength', 393).attr('lengthAdjust', 'spacingAndGlyphs')
    .attr('fill', '#0f4e62')
    .text('Fornax Spectr. Survey');

const refs = [
    { label: 'Chaturvedi+22', x: 32, len: 210, bold: true },
    { label: 'Pota+18', x: 258, len: 114, bold: false }
];
refs.forEach(r => {
    svg.append('text')
        .attr('x', r.x).attr('y', 860)
        .attr('font-family', SANS)
        .attr('font-size', 26).attr('font-weight', r.bold ? 'bold' : 'normal')
        .attr('textLength', r.len).attr('lengthAdjust', 'spacingAndGlyphs')
        .attr('fill', '#0000ee')
        .text(r.label);
    svg.append('line')
        .attr('x1', r.x).attr('x2', r.x + r.len)
        .attr('y1', 864).attr('y2', 864)
        .attr('stroke', '#0000ee').attr('stroke-width', 2);
});
svg.append('text')
    .attr('x', 243).attr('y', 860)
    .attr('font-family', SANS)
    .attr('font-size', 26)
    .attr('fill', '#0000ee')
    .text(',');
</script>
</body>
</html>
